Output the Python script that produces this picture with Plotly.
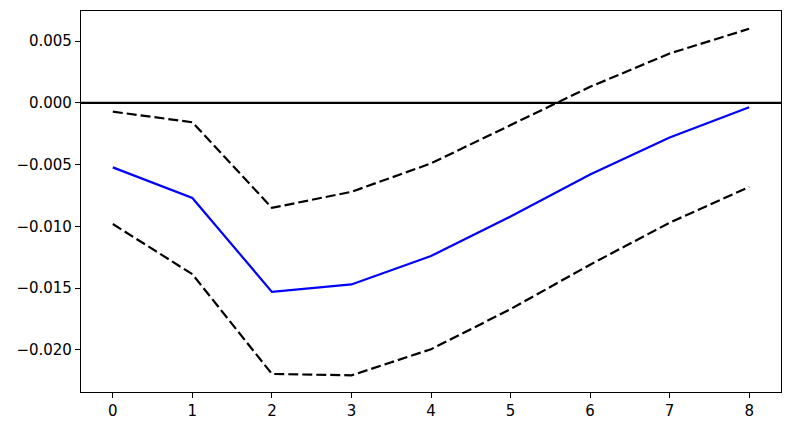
import plotly.graph_objects as go

horizons = [0, 1, 2, 3, 4, 5, 6, 7, 8]
irf = [-0.00522, -0.0077, -0.0153, -0.0147, -0.0124, -0.0092, -0.0058, -0.0028, -0.00036]
upper = [-0.00071, -0.00157, -0.0085, -0.0072, -0.0049, -0.0018, 0.0013, 0.0040, 0.0060]
lower = [-0.00981, -0.01387, -0.02195, -0.02206, -0.01995, -0.0167, -0.0131, -0.0097, -0.0068]

ytick_vals = [0.005, 0.0, -0.005, -0.010, -0.015, -0.020]
ytick_text = ["0.005", "0.000", "\u22120.005", "\u22120.010", "\u22120.015", "\u22120.020"]
xtick_vals = horizons
xtick_text = [str(h) for h in horizons]

fig = go.Figure()
fig.add_trace(go.Scatter(x=horizons, y=irf, mode="lines",
                         line=dict(color="#0000ff", width=2.2)))
fig.add_trace(go.Scatter(x=horizons, y=upper, mode="lines",
                         line=dict(color="black", width=2.2, dash="10px,4px")))
fig.add_trace(go.Scatter(x=horizons, y=lower, mode="lines",
                         line=dict(color="black", width=2.2, dash="10px,4px")))
fig.add_hline(y=0, line=dict(color="black", width=2.2))

axis_common = dict(showgrid=False, zeroline=False, showline=True, mirror=True,
                   linecolor="black", linewidth=1.2, ticks="outside", ticklen=5,
                   tickwidth=1.2, tickcolor="black",
                   tickfont=dict(family="DejaVu Sans", size=15, color="black"))

fig.update_layout(
    width=793, height=431,
    margin=dict(l=73, r=20, t=3, b=47),
    paper_bgcolor="white", plot_bgcolor="white",
    showlegend=False,
    xaxis=dict(range=[-0.4, 8.4], tickvals=xtick_vals, ticktext=xtick_text, **axis_common),
    yaxis=dict(range=[-0.02341, 0.00744], tickvals=ytick_vals, ticktext=ytick_text, **axis_common),
)
fig.write_html("out.html")
